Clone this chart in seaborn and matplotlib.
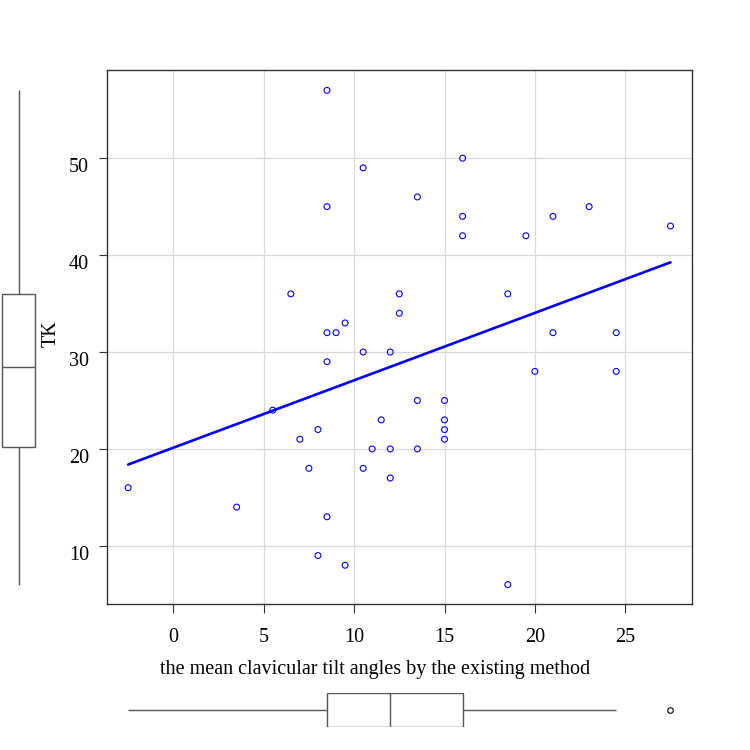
import matplotlib
matplotlib.use("Agg")
import matplotlib.pyplot as plt
from matplotlib.transforms import ScaledTranslation
import pandas as pd
import seaborn as sns

# Data
tilt_existing = [8.5, 10.5, 16, 13.5, 8.5, 16, 16, 21, 23, 19.5, 27.5, 6.5, 12.5, 18.5,
                 12.5, 9.5, 8.5, 9, 21, 24.5, 10.5, 12, 8.5, 20, 24.5, 5.5, 13.5, 15,
                 11.5, 15, 15, 8, 15, 7, 11, 12, 13.5, 7.5, 10.5, 12, -2.5, 3.5, 8.5,
                 8, 9.5, 18.5]
tk = [57, 49, 50, 46, 45, 44, 42, 44, 45, 42, 43, 36, 36, 36,
      34, 33, 32, 32, 32, 32, 30, 30, 29, 28, 28, 24, 25, 25,
      23, 23, 22, 22, 21, 21, 20, 20, 20, 18, 18, 17, 16, 14, 13,
      9, 8, 6]
x_ticks = [0, 5, 10, 15, 20, 25]
y_ticks = [10, 20, 30, 40, 50]
x_label = "the mean clavicular tilt angles by the existing method"
y_label = "TK"

df = pd.DataFrame({"x": tilt_existing, "y": tk})

sns.set_theme(style="white")
plt.rcParams['font.family'] = ['Liberation Serif', 'DejaVu Serif']

W = H = 750
fig = plt.figure(figsize=(7.5, 7.5), dpi=100)


def rect(l, t, r, b):
    return [l / W, 1 - b / H, (r - l) / W, (b - t) / H]


ax = fig.add_axes(rect(107, 70, 692, 604))
ax_left = fig.add_axes(rect(0, 70, 37, 604))
ax_bot = fig.add_axes(rect(107, 693, 692, 727))

XLIM = (-3.67, 28.69)
YLIM = (4.0, 59.1)
FS = 14.5

# main scatter + regression line
sns.regplot(data=df, x="x", y="y", ci=None, ax=ax,
            scatter_kws=dict(s=18, facecolors="none", edgecolors="blue",
                             linewidths=0.8, alpha=1, zorder=3),
            line_kws=dict(color="blue", lw=1.9, zorder=4))

ax.set_xlim(*XLIM)
ax.set_ylim(*YLIM)
ax.set_xticks(x_ticks)
ax.set_yticks(y_ticks)
ax.grid(True, color="#d9d9d9", linewidth=0.9)
ax.set_axisbelow(True)
for s in ax.spines.values():
    s.set_color("#333333")
    s.set_linewidth(1.0)
ax.tick_params(axis="x", direction="out", length=6.5, width=0.8,
               color="#333333", labelsize=FS, labelcolor="black", pad=10.5,
               bottom=True)
ax.tick_params(axis="y", direction="out", length=6, width=0.8,
               color="#333333", labelsize=FS, labelcolor="black", pad=7,
               left=True)
shift = ScaledTranslation(0, -7 / 100, fig.dpi_scale_trans)
for lab in ax.get_yticklabels():
    lab.set_transform(lab.get_transform() + shift)

ax.set_xlabel(x_label, fontsize=FS, color="black")
ax.xaxis.set_label_coords((375 - 107) / 585, -(660 - 604) / 534)
ax.set_ylabel(y_label, fontsize=FS, color="black")
ax.yaxis.set_label_coords(-(107 - 61) / 585, 0.5 + 3 / 534)

# left boxplot for TK
box_line = "#555555"
sns.boxplot(y=df["y"], ax=ax_left, width=0.9, color="white", linecolor=box_line,
            linewidth=1.0, whis=1.5, showcaps=False,
            flierprops=dict(marker="o", markersize=4, markerfacecolor="none",
                            markeredgecolor="black"))
ax_left.set_ylim(*YLIM)
ax_left.set_xlim(-0.5, 0.5)
ax_left.axis("off")

# bottom boxplot for tilt angles
sns.boxplot(x=df["x"], ax=ax_bot, width=0.98, color="white", linecolor=box_line,
            linewidth=1.0, whis=1.5, showcaps=False,
            flierprops=dict(marker="o", markersize=4, markerfacecolor="none",
                            markeredgecolor="black", markeredgewidth=0.8))
ax_bot.set_xlim(*XLIM)
ax_bot.set_ylim(-0.5, 0.5)
ax_bot.axis("off")

fig.savefig("out.png", dpi=100, facecolor="white")
